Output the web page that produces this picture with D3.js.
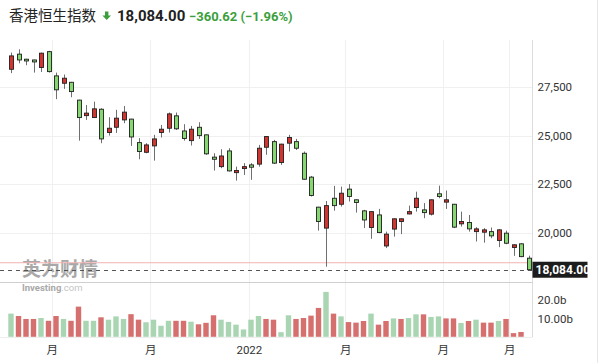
<!DOCTYPE html>
<html>
<head>
<meta charset="utf-8">
<script src="https://cdn.jsdelivr.net/npm/d3@7"></script>
<style>
  body { margin: 0; background: #fff; }
  #chart { width: 600px; height: 363px; }
  text { font-family: Roboto, "Noto Sans CJK SC", sans-serif; }
</style>
</head>
<body>
<div id="chart"></div>
<script>
// weekly candles, HSI
var opens  = [28420,29200,28940,28900,28510,29330,28080,27700,27750,26830,26030,25930,26360,25160,25430,25810,25850,24640,24140,24470,
              25160,25380,26020,25240,24740,25430,25040,23890,23400,24210,23090,23300,23490,23530,24400,24690,23610,24610,24690,24090,
              22860,21310,20230,21770,21460,22240,21690,21120,20260,20910,19310,20180,20570,20960,21290,21170,20950,22000,21570,21460,
              20450,20520,20050,20020,20050,19590,19970,19230,19420,18680];
var highs  = [29280,29450,28960,28920,29280,29370,28250,28150,27770,26850,26580,26750,26410,25950,26330,26530,25870,24870,24610,25040,
              25550,26190,26190,25590,25500,25690,25060,24090,24300,24350,23400,23580,23580,24520,24970,24780,24580,25040,24830,24180,
              22920,21330,21630,22410,22370,22500,21710,21170,21100,21220,20050,20730,20730,21390,22110,21520,21710,22420,22170,21480,
              21080,20910,20280,20230,20260,20180,20100,19390,19450,18810];
var lows   = [28220,28730,28630,28250,28280,28250,26880,27410,26980,24740,25810,25910,24610,25000,25140,25640,24470,23780,24090,23710,
              24900,25160,25290,24740,24490,24830,24010,23200,23320,23150,22680,22970,22720,23400,24010,23540,23490,24180,24260,22720,
              21860,20100,18240,21130,21340,21600,21030,20230,19680,19970,19200,19790,19920,20940,21080,20740,20880,21770,21220,20230,
              20310,20050,19540,19480,19710,19250,19400,18800,18730,18040];
var closes = [29110,28900,28850,28800,29250,28300,27360,27960,27270,25930,26160,26380,24830,25380,25900,26210,24930,24180,24520,24830,
              25330,26120,25350,24850,25330,25000,24060,23780,23950,23180,23200,23400,23370,24350,24950,23580,24560,24900,24350,22750,
              21910,20570,21390,21390,22030,21860,21550,20650,21080,20000,19920,20710,20710,21080,21770,21030,21690,21860,21690,20280,
              20570,20190,20190,20140,19830,20140,19450,19370,18760,18084];
// volume in billions, last week not shown
var volumes = [12.6,11.3,9.7,9.7,10.2,8.7,11.3,9.7,8.7,16.4,8.7,8.7,10.6,9.3,11.1,9.7,12.3,9.3,7.9,9.3,
               6.0,8.7,8.7,8.7,8.2,6.8,7.6,11.7,9.3,8.1,6.6,4.0,9.3,11.3,9.7,9.3,2.5,11.7,9.7,10.2,
               11.5,15.7,24.4,12.6,11.1,8.0,7.7,8.6,12.6,6.6,8.6,10.0,9.7,10.2,12.2,12.2,10.8,11.1,10.0,10.0,
               7.5,8.6,9.3,7.7,7.7,8.6,9.7,2.0,2.6,null];
var volUp = [1,0,0,0,1,0,0,1,0,0, 1,1,0,1,1,1,0,0,1,1, 1,1,0,0,1,0,0,0,1,1,
             1,1,1,1,0,0,1,1,0,0, 0,0,1,0,1,0,0,0,1,0, 0,1,0,1,1,0,1,1,0,0,
             1,0,1,0,0,1,0,0,0,0];

var weeks = d3.timeMonday.range(new Date(2021, 4, 24), new Date(2022, 8, 20));

var tickDates  = [new Date(2021, 6, 1), new Date(2021, 9, 1), new Date(2022, 0, 1), new Date(2022, 3, 1), new Date(2022, 6, 1), new Date(2022, 8, 1)];
var tickLabels = ["月", "月", "2022", "月", "月", "月"];
var priceTicks = [20000, 22500, 25000, 27500];
var volTicks = [10, 20];
var volLabels = ["10.00b", "20.0b"];

var lastPrice = 18084.00, prevClose = 18444.62;

var width = 600, height = 363;
var plotRight = 532.5;

var svg = d3.select("#chart")
    .append("svg")
    .attr("width", width)
    .attr("height", height)
    .attr("viewBox", `0 0 ${width} ${height}`);

var x = d3.scaleTime()
    .domain([weeks[0], weeks[weeks.length - 1]])
    .range([11, 528.5]);

var y = d3.scaleLinear()
    .domain([17400, 29930])
    .range([283, 40]);

var v = d3.scaleLinear()
    .domain([0, 10])
    .range([336.8, 318.4]);

var red = "#d2352f", green = "#86d672";
var volRed = "#d5706e", volGreen = "#a9d5b3";

// header
var head = svg.append("g");
head.append("text")
    .attr("x", 9).attr("y", 21)
    .style("font-family", "'Noto Sans CJK SC', sans-serif")
    .style("font-size", "14.5px")
    .attr("fill", "#222")
    .text("香港恒生指数");
head.append("path")
    .attr("d", "M105,11.5 h3.4 v4 h2.6 l-4.3,4.6 l-4.3,-4.6 h2.6 z")
    .attr("fill", "#3c9f3c");
head.append("text")
    .attr("x", 117).attr("y", 21)
    .style("font-size", "15px").style("font-weight", "bold")
    .attr("fill", "#222")
    .text(d3.format(",.2f")(lastPrice));
head.append("text")
    .attr("x", 189).attr("y", 21)
    .style("font-size", "13px").style("font-weight", "bold")
    .attr("fill", "#3c9f3c")
    .text(d3.format(".2f")(lastPrice - prevClose) + " (" + d3.format(".2f")((lastPrice - prevClose) / prevClose * 100) + "%)");

// grid
var grid = svg.append("g");
grid.selectAll(".hgrid")
    .data(priceTicks)
    .enter().append("line")
    .attr("x1", 0).attr("x2", plotRight)
    .attr("y1", d => Math.round(y(d)) + 0.5).attr("y2", d => Math.round(y(d)) + 0.5)
    .attr("stroke", "#f0f0f0");
grid.selectAll(".vgrid")
    .data(tickDates)
    .enter().append("line")
    .attr("x1", d => Math.round(x(d)) + 0.5).attr("x2", d => Math.round(x(d)) + 0.5)
    .attr("y1", 40).attr("y2", 337)
    .attr("stroke", "#f0f0f0");

// frame
svg.append("line")
    .attr("x1", plotRight).attr("x2", plotRight).attr("y1", 40).attr("y2", 337)
    .attr("stroke", "#dcdcdc");
svg.append("line")
    .attr("x1", 0).attr("x2", plotRight).attr("y1", 282.5).attr("y2", 282.5)
    .attr("stroke", "#cfcfcf");
svg.append("line")
    .attr("x1", 0).attr("x2", plotRight).attr("y1", 337.5).attr("y2", 337.5)
    .attr("stroke", "#eeeeee");
svg.append("line")
    .attr("x1", 597.5).attr("x2", 597.5).attr("y1", 0).attr("y2", height)
    .attr("stroke", "#e6e6e6");

// watermark
var wm = svg.append("g").attr("opacity", 0.75);
wm.append("text")
    .attr("x", 22).attr("y", 275.5)
    .style("font-family", "'Noto Sans CJK SC', sans-serif")
    .style("font-size", "19px").style("font-weight", "bold")
    .attr("fill", "#8c8c8c")
    .text("英为财情");
wm.append("text")
    .attr("x", 22).attr("y", 291)
    .style("font-size", "9.5px").style("font-weight", "bold")
    .attr("fill", "#8c8c8c")
    .text("Investing")
    .append("tspan")
    .style("font-weight", "normal")
    .attr("fill", "#b0b0b0")
    .text(".com");

// prev close + last price lines
svg.append("line")
    .attr("x1", 0).attr("x2", plotRight)
    .attr("y1", y(prevClose)).attr("y2", y(prevClose))
    .attr("stroke", "#f2b4b4");
svg.append("line")
    .attr("x1", 0).attr("x2", plotRight)
    .attr("y1", Math.round(y(lastPrice)) + 0.5).attr("y2", Math.round(y(lastPrice)) + 0.5)
    .attr("stroke", "#555")
    .attr("stroke-dasharray", "4,4");

// candles
var candles = svg.append("g").attr("class", "candles");
var cdata = weeks.map(function (d, i) {
    return { date: d, o: opens[i], h: highs[i], l: lows[i], c: closes[i], vol: volumes[i], up: volUp[i] };
});

var cg = candles.selectAll("g")
    .data(cdata)
    .enter().append("g")
    .attr("transform", d => "translate(" + Math.round(x(d.date)) + ",0)");

cg.append("line")
    .attr("x1", 0.5).attr("x2", 0.5)
    .attr("y1", d => y(d.h)).attr("y2", d => y(d.l))
    .attr("stroke", "#6f6f6f");

cg.append("rect")
    .attr("x", -1.5)
    .attr("width", 4)
    .attr("y", d => y(Math.max(d.o, d.c)))
    .attr("height", d => Math.max(1, Math.abs(y(d.o) - y(d.c))))
    .attr("fill", d => d.c >= d.o ? red : green)
    .attr("stroke", "#1f1f1f")
    .attr("stroke-width", 0.9);

// volume
svg.append("g")
    .selectAll("rect")
    .data(cdata.filter(d => d.vol != null))
    .enter().append("rect")
    .attr("x", d => x(d.date) - 2.7)
    .attr("width", 5.4)
    .attr("y", d => v(d.vol))
    .attr("height", d => v(0) - v(d.vol))
    .attr("fill", d => d.up ? volGreen : volRed);

// axes
var yAxis = svg.append("g")
    .attr("transform", "translate(" + plotRight + ",0)")
    .call(d3.axisRight(y).tickValues(priceTicks).tickFormat(d3.format(",")).tickSize(0).tickPadding(5));
var vAxis = svg.append("g")
    .attr("transform", "translate(" + plotRight + ",0)")
    .call(d3.axisRight(v).tickValues(volTicks).tickFormat((d, i) => volLabels[i]).tickSize(0).tickPadding(5));
var xAxis = svg.append("g")
    .attr("transform", "translate(0,337)")
    .call(d3.axisBottom(x).tickValues(tickDates).tickFormat((d, i) => tickLabels[i]).tickSize(0).tickPadding(9));

[yAxis, vAxis, xAxis].forEach(function (a) {
    a.select(".domain").remove();
    a.selectAll("text")
        .style("font-family", "Roboto, 'Noto Sans CJK SC', sans-serif")
        .style("font-size", "11.5px")
        .attr("fill", "#333");
});

// last price tag
var tag = svg.append("g")
    .attr("transform", "translate(" + plotRight + "," + y(lastPrice) + ")");
tag.append("rect")
    .attr("x", 0).attr("y", -8)
    .attr("width", 55).attr("height", 16)
    .attr("fill", "#1c1c1c");
tag.append("text")
    .attr("x", 3).attr("y", 4.5)
    .style("font-size", "12px").style("font-weight", "bold")
    .attr("fill", "#fff")
    .text(d3.format(",.2f")(lastPrice));
</script>
</body>
</html>
